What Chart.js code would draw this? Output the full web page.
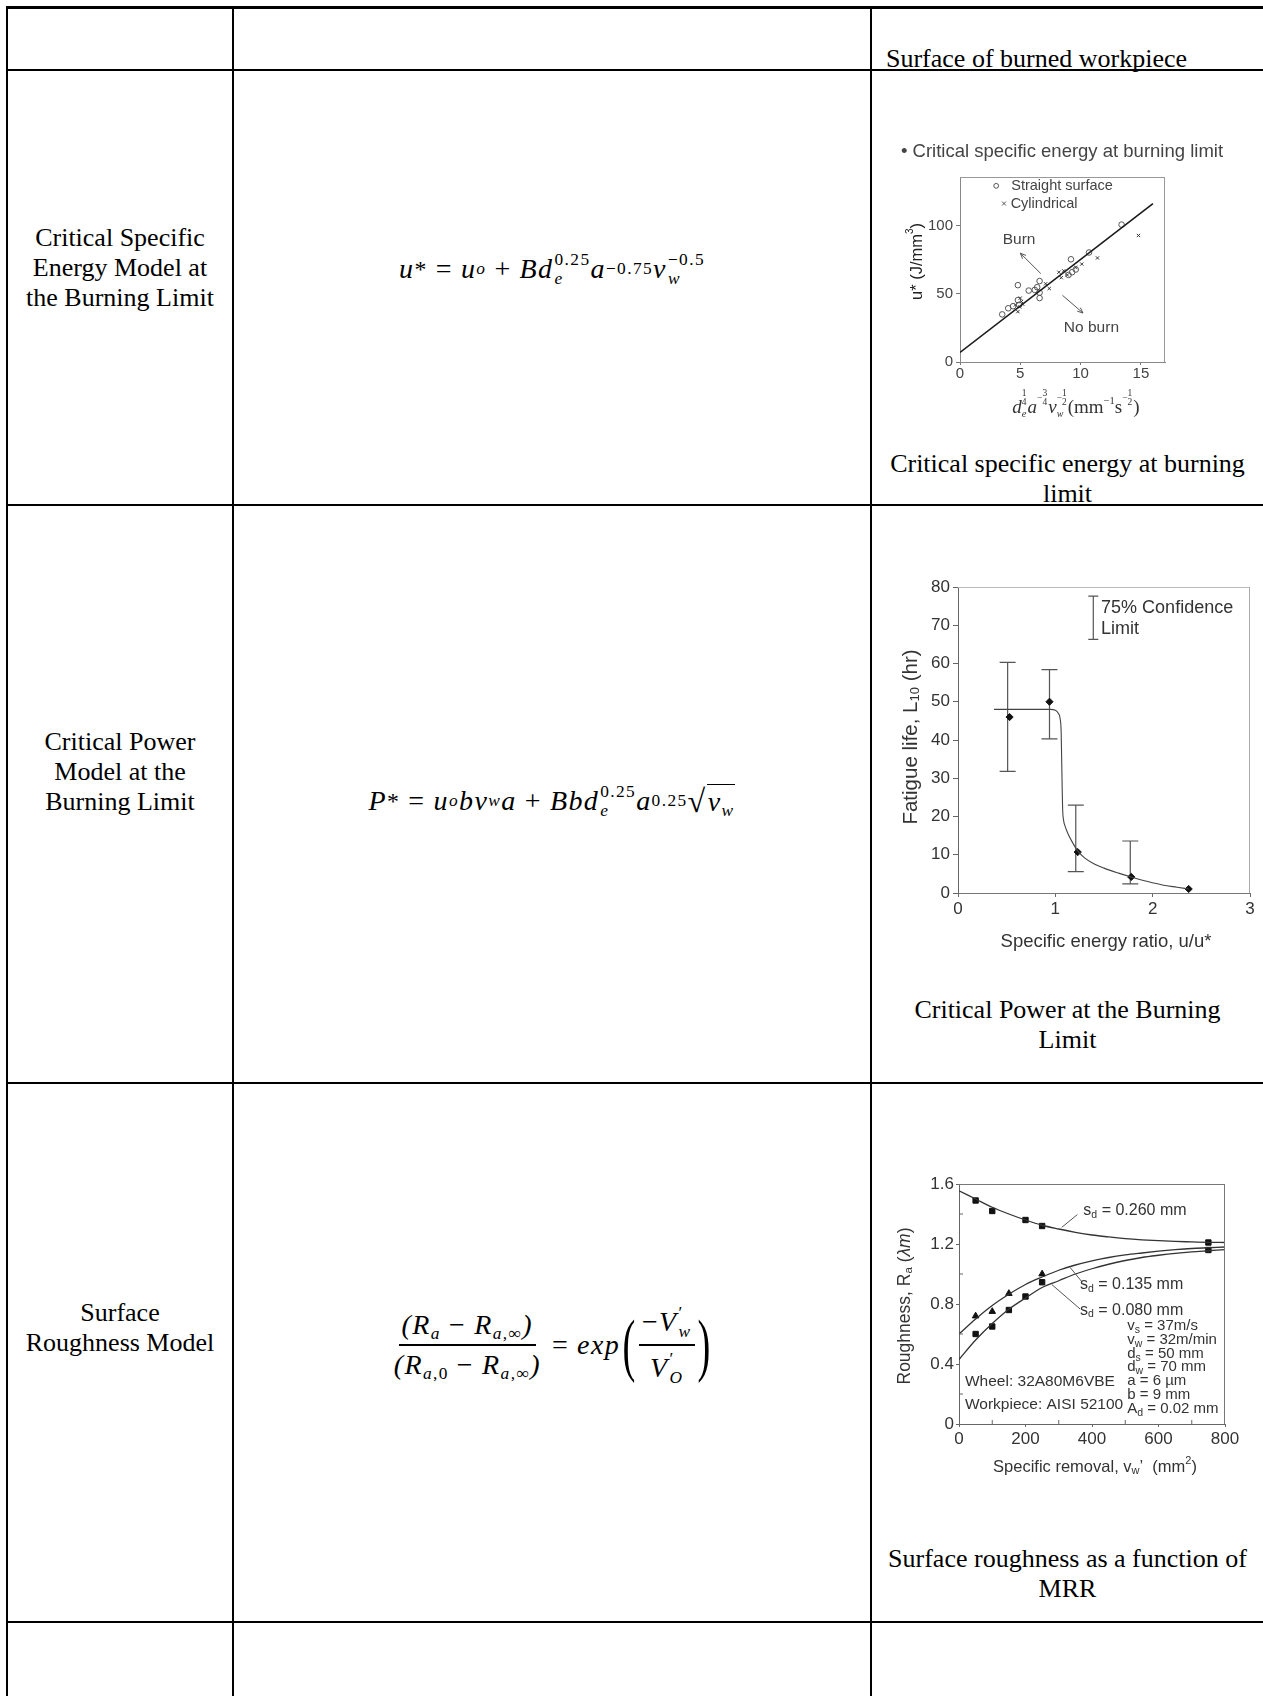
<!DOCTYPE html>
<html><head><meta charset="utf-8">
<script src="https://cdn.jsdelivr.net/npm/chart.js@4.4.1/dist/chart.umd.min.js"></script>
<style>
html,body{margin:0;padding:0;background:#fff;}
body{width:1263px;height:1696px;position:relative;overflow:hidden;font-family:"Liberation Serif","Times New Roman",serif;color:#000;}
.h{position:absolute;left:6px;width:1257px;height:2px;background:#000;}
.v{position:absolute;top:6px;width:2px;height:1690px;background:#000;}
.t{position:absolute;text-align:center;font-size:26px;line-height:30px;white-space:nowrap;}
.c1{left:8px;width:224px;}
.c3{left:872px;width:391px;}
.f{position:absolute;left:234px;width:636px;height:90px;display:flex;align-items:center;justify-content:center;font-family:"Liberation Serif",serif;font-style:italic;font-size:28px;white-space:nowrap;letter-spacing:1.4px;}
.op{font-style:normal;margin:0 8px;}
.up{font-style:normal;}
.f sup,.f sub{font-size:0.62em;line-height:0;}
.f sup{vertical-align:0.95em;}
.f sub{vertical-align:-0.3em;}
.f sup.st{font-size:0.85em;vertical-align:0.25em;}
.ss{display:inline-block;font-size:0.62em;line-height:1.1;vertical-align:-6px;margin-left:1px;}
.ss>span{display:block;}
.frac{display:inline-flex;flex-direction:column;align-items:center;vertical-align:middle;}
.frac .num{border-bottom:2px solid #000;padding:0 3px 3px;}
.frac .den{padding:3px 3px 0;}
.bigp{font-style:normal;font-size:2.5em;line-height:1;display:inline-block;transform:scaleX(0.55);vertical-align:middle;margin:0 -3px;}
.rad{font-style:normal;font-size:1.15em;}
.ol{border-top:1.5px solid #000;padding:1px 1px 0;}
canvas{position:absolute;}
</style></head><body>

<div class="h" style="top:6px;height:3px"></div>
<div class="h" style="top:69px"></div>
<div class="h" style="top:504px"></div>
<div class="h" style="top:1082px"></div>
<div class="h" style="top:1621px"></div>
<div class="v" style="left:6px"></div>
<div class="v" style="left:232px"></div>
<div class="v" style="left:870px"></div>

<div class="t" style="top:44px;left:886px;text-align:left">Surface of burned workpiece</div>

<div class="t c1" style="top:223px">Critical Specific<br>Energy Model at<br>the Burning Limit</div>
<div class="t c1" style="top:727px">Critical Power<br>Model at the<br>Burning Limit</div>
<div class="t c1" style="top:1298px">Surface<br>Roughness Model</div>

<div class="f" style="top:224px">u<sup class="up st">*</sup><span class="op">=</span>u<sub>o</sub><span class="op">+</span>Bd<span class="ss"><span class="up">0.25</span><span>e</span></span>a<sup class="up">−0.75</sup>v<span class="ss"><span class="up">−0.5</span><span>w</span></span></div>

<div class="f" style="top:756px">P<sup class="up st">*</sup><span class="op">=</span>u<sub>o</sub>bv<sub>w</sub>a<span class="op">+</span>Bbd<span class="ss"><span class="up">0.25</span><span>e</span></span>a<sup class="up">0.25</sup><span class="rad">√</span><span class="ol">v<sub>w</sub></span></div>

<div class="f" style="top:1300px"><span class="frac"><span class="num">(R<sub>a</sub><span class="op">−</span>R<sub>a<span class="up">,∞</span></sub>)</span><span class="den">(R<sub>a<span class="up">,0</span></sub><span class="op">−</span>R<sub>a<span class="up">,∞</span></sub>)</span></span><span class="op">=</span>exp<span class="bigp">(</span><span class="frac"><span class="num"><span class="up">−</span>V<span class="ss"><span class="up">′</span><span>w</span></span></span><span class="den">V<span class="ss"><span class="up">′</span><span>O</span></span></span></span><span class="bigp">)</span></div>

<div class="t c3" style="top:449px">Critical specific energy at burning<br>limit</div>
<div class="t c3" style="top:995px">Critical Power at the Burning<br>Limit</div>
<div class="t c3" style="top:1544px">Surface roughness as a function of<br>MRR</div>

<canvas id="ch1" width="370" height="300" style="left:880px;top:130px"></canvas>
<canvas id="ch2" width="388" height="400" style="left:875px;top:560px"></canvas>
<canvas id="ch3" width="375" height="370" style="left:880px;top:1130px"></canvas>

<script>
// ---------- Chart 1: critical specific energy ----------
const c1XRange = [0, 17];
const c1YRange = [0, 136];
const c1XTicks = [0, 5, 10, 15];
const c1YTicks = [0, 50, 100];
const c1FitX = [0, 16];
const c1FitY = [7, 116.5];
const c1StraightX = [3.5, 4.0, 4.4, 4.8, 4.8, 4.9, 5.7, 6.2, 6.4, 6.6, 6.6, 6.6, 9.0, 9.2, 9.3, 9.6, 10.7, 13.4];
const c1StraightY = [35, 39.5, 41, 56.5, 45.5, 42, 52.5, 53, 55, 59.5, 47, 51, 64, 75.5, 66, 68, 80.5, 101];
const c1CylX = [4.6, 4.95, 5.1, 4.8, 5.2, 5.0, 7.1, 7.4, 8.2, 8.4, 8.6, 8.9, 9.6, 10.1, 11.4, 14.8];
const c1CylY = [42, 40.5, 44.5, 37, 42.5, 47, 57.5, 54, 66, 62, 67, 64, 69.5, 72, 76.5, 93];

// ---------- Chart 2: fatigue life ----------
const c2XRange = [0, 3];
const c2YRange = [0, 80];
const c2XTicks = [0, 1, 2, 3];
const c2YTicks = [0, 10, 20, 30, 40, 50, 60, 70, 80];
const c2PtX = [0.53, 0.94, 1.23, 1.78, 2.37];
const c2PtY = [46, 50, 10.7, 4.2, 1.05];
const c2ErrX = [0.51, 0.94, 1.21, 1.77];
const c2ErrLo = [31.8, 40.3, 5.6, 2.4];
const c2ErrHi = [60.3, 58.4, 23, 13.6];
const c2CurveX = [0.37, 0.6, 0.8, 0.95, 1.0, 1.03, 1.05, 1.06, 1.065, 1.07, 1.075, 1.085, 1.1, 1.13, 1.17, 1.23, 1.3, 1.4, 1.5, 1.65, 1.78, 1.95, 2.1, 2.25, 2.37];
const c2CurveY = [48, 48, 48, 48, 47.8, 47, 45.5, 42, 35, 28, 22, 19, 17.5, 15.5, 13.5, 11, 9.2, 7.6, 6.5, 5.2, 4.2, 3, 2.1, 1.5, 1.05];

// ---------- Chart 3: surface roughness ----------
const c3XRange = [0, 800];
const c3YRange = [0, 1.6];
const c3XTicks = [0, 200, 400, 600, 800];
const c3YTicks = [0, 0.4, 0.8, 1.2, 1.6];
const c3CurveX = [0, 50, 100, 150, 200, 250, 300, 350, 400, 450, 500, 550, 600, 650, 700, 750, 800];
const c3Curve260 = [1.555, 1.5, 1.445, 1.4, 1.36, 1.325, 1.3, 1.278, 1.26, 1.247, 1.236, 1.228, 1.222, 1.217, 1.214, 1.211, 1.21];
const c3Curve135 = [0.6, 0.7, 0.79, 0.865, 0.93, 0.98, 1.025, 1.06, 1.088, 1.11, 1.127, 1.14, 1.152, 1.162, 1.17, 1.175, 1.18];
const c3Curve080 = [0.43, 0.56, 0.67, 0.765, 0.84, 0.91, 0.955, 1.0, 1.035, 1.065, 1.09, 1.11, 1.125, 1.138, 1.148, 1.155, 1.162];
const c3Sq260X = [50, 100, 200, 250, 750];
const c3Sq260Y = [1.49, 1.42, 1.36, 1.32, 1.21];
const c3Tri135X = [50, 100, 150, 250];
const c3Tri135Y = [0.72, 0.75, 0.87, 1.0];
const c3Sq080X = [50, 100, 150, 200, 250, 750];
const c3Sq080Y = [0.6, 0.65, 0.76, 0.85, 0.945, 1.16];

const SANS = '"Liberation Sans", Arial, sans-serif';
const SERIF = '"Liberation Serif", "Times New Roman", serif';
const zip = (xs, ys) => xs.map((x, i) => ({x: x, y: ys[i]}));

// ---------- rich text helper ----------
function segFont(s, b) { return (s.i ? 'italic ' : '') + (s.s || b.s) + 'px ' + (s.fam || b.fam); }
function segW(ctx, s, b) {
  if (s.over) return Math.max.apply(null, s.over.map(o => segW(ctx, o, b)));
  ctx.font = segFont(s, b);
  if (s.fr) {
    const w = Math.max(ctx.measureText(s.fr[0]).width, ctx.measureText(s.fr[1]).width) + 1;
    return w + (s.neg ? ctx.measureText('−').width : 0);
  }
  return ctx.measureText(s.t).width;
}
function segD(ctx, s, b, x, y) {
  if (s.over) { s.over.forEach(o => segD(ctx, o, b, x, y)); return; }
  ctx.font = segFont(s, b);
  const dy = s.dy || 0;
  ctx.textAlign = 'left';
  if (s.fr) {
    let xx = x;
    const sz = s.s || b.s;
    if (s.neg) { ctx.fillText('−', xx, y + dy); xx += ctx.measureText('−').width; }
    const w = Math.max(ctx.measureText(s.fr[0]).width, ctx.measureText(s.fr[1]).width);
    ctx.textAlign = 'center';
    ctx.fillText(s.fr[0], xx + w / 2, y + dy - sz * 0.5);
    ctx.fillText(s.fr[1], xx + w / 2, y + dy + sz * 0.5);
    ctx.textAlign = 'left';
    return;
  }
  ctx.fillText(s.t, x, y + dy);
}
function rich(ctx, x, y, segs, o) {
  const b = {s: o.s, fam: o.fam || SANS};
  const ws = segs.map(s => segW(ctx, s, b));
  const tot = ws.reduce((a, c) => a + c, 0);
  ctx.save();
  ctx.fillStyle = o.color || '#333';
  ctx.textBaseline = 'middle';
  ctx.translate(x, y);
  if (o.rot) ctx.rotate(-Math.PI / 2);
  let xx = o.align === 'left' ? 0 : (o.align === 'right' ? -tot : -tot / 2);
  segs.forEach((s, i) => { segD(ctx, s, b, xx, 0); xx += ws[i]; });
  ctx.restore();
}
function arrow(ctx, x1, y1, x2, y2, color) {
  ctx.save();
  ctx.strokeStyle = color; ctx.lineWidth = 1;
  ctx.beginPath(); ctx.moveTo(x1, y1); ctx.lineTo(x2, y2); ctx.stroke();
  const a = Math.atan2(y2 - y1, x2 - x1), L = 6;
  ctx.beginPath();
  ctx.moveTo(x2 - L * Math.cos(a - 0.4), y2 - L * Math.sin(a - 0.4));
  ctx.lineTo(x2, y2);
  ctx.lineTo(x2 - L * Math.cos(a + 0.4), y2 - L * Math.sin(a + 0.4));
  ctx.stroke();
  ctx.restore();
}

function axis(range, ticks, size, isX, o) {
  return {
    type: 'linear', min: range[0], max: range[1],
    afterBuildTicks: s => { s.ticks = ticks.map(v => ({value: v})); },
    afterFit: s => {
      if (isX) { s.height = size; s.paddingLeft = 0; s.paddingRight = 0; }
      else { s.width = size; s.paddingTop = 0; s.paddingBottom = 0; }
    },
    grid: {drawOnChartArea: false, drawTicks: true, tickLength: o.tl, color: o.tc, lineWidth: 1},
    border: {display: true, color: o.bc, width: 1},
    ticks: {color: o.col, font: {family: SANS, size: o.fs}, padding: o.pad, maxRotation: 0, autoSkip: false,
      callback: v => String(v)}
  };
}
function frame(top, right) {
  return {id: 'frame', afterDatasetsDraw(chart) {
    const c = chart.ctx, a = chart.chartArea;
    c.save(); c.lineWidth = 1;
    c.strokeStyle = top; c.beginPath(); c.moveTo(a.left, a.top + 0.5); c.lineTo(a.right, a.top + 0.5); c.stroke();
    c.strokeStyle = right; c.beginPath(); c.moveTo(a.right - 0.5, a.top); c.lineTo(a.right - 0.5, a.bottom); c.stroke();
    c.restore();
  }};
}
const baseOpts = (pad) => ({
  responsive: false, animation: false, devicePixelRatio: 1,
  layout: {padding: pad},
  plugins: {legend: {display: false}, tooltip: {enabled: false}, title: {display: false}}
});

// ---------- Chart 1 ----------
const annot1 = {id: 'annot1', afterDraw(chart) {
  const ctx = chart.ctx, a = chart.chartArea, X = chart.scales.x, Y = chart.scales.y;
  const px = v => X.getPixelForValue(v), py = v => Y.getPixelForValue(v);
  const col = '#444';
  rich(ctx, a.left + 102, a.top - 25, [{t: '• Critical specific energy at burning limit'}], {s: 18.5, color: col});
  ctx.save(); ctx.strokeStyle = '#555'; ctx.lineWidth = 1;
  ctx.beginPath(); ctx.arc(px(3.0), py(129.5), 2.4, 0, Math.PI * 2); ctx.stroke();
  const cx = px(3.65), cy = py(116.5);
  ctx.beginPath(); ctx.moveTo(cx - 2, cy - 2); ctx.lineTo(cx + 2, cy + 2); ctx.moveTo(cx + 2, cy - 2); ctx.lineTo(cx - 2, cy + 2); ctx.stroke();
  ctx.restore();
  rich(ctx, px(4.25), py(129.5), [{t: 'Straight surface'}], {s: 14.5, color: col, align: 'left'});
  rich(ctx, px(4.2), py(116.5), [{t: 'Cylindrical'}], {s: 14.5, color: col, align: 'left'});
  rich(ctx, px(4.9), py(90), [{t: 'Burn'}], {s: 15.5, color: col});
  arrow(ctx, px(6.7), py(65), px(5.0), py(80), '#555');
  rich(ctx, px(10.9), py(25.5), [{t: 'No burn'}], {s: 15.5, color: col});
  arrow(ctx, px(8.5), py(49), px(10.2), py(36), '#555');
  rich(ctx, a.left - 43, (a.top + a.bottom) / 2 - 8, [{t: 'u* (J/mm'}, {t: '3', s: 10, dy: -7}, {t: ')'}], {s: 16.5, color: '#222', rot: true});
  rich(ctx, a.left + 116, a.bottom + 46, [
    {t: 'd', i: true},
    {over: [{fr: ['1', '4'], s: 9.5, dy: -10}, {t: 'e', s: 10.5, dy: 6, i: true}]},
    {t: 'a', i: true},
    {fr: ['3', '4'], s: 9.5, dy: -10, neg: true},
    {t: 'v', i: true},
    {over: [{fr: ['1', '2'], s: 9.5, dy: -10, neg: true}, {t: 'w', s: 10, dy: 6, i: true}]},
    {t: '(mm'},
    {t: '−1', s: 10.5, dy: -7},
    {t: 's'},
    {fr: ['1', '2'], s: 9.5, dy: -10, neg: true},
    {t: ')'}
  ], {s: 19, fam: SERIF, color: '#333'});
}};
new Chart(document.getElementById('ch1'), {
  type: 'scatter',
  data: {datasets: [
    {type: 'line', data: zip(c1FitX, c1FitY), borderColor: '#1a1a1a', borderWidth: 1.6, pointRadius: 0, showLine: true, fill: false},
    {data: zip(c1StraightX, c1StraightY), pointStyle: 'circle', pointRadius: 2.8, pointBorderColor: '#555', pointBorderWidth: 1, pointBackgroundColor: 'rgba(255,255,255,0)'},
    {data: zip(c1CylX, c1CylY), pointStyle: 'crossRot', pointRadius: 2.3, pointBorderColor: '#333', pointBorderWidth: 1}
  ]},
  options: Object.assign(baseOpts({top: 47, right: 85, left: 0, bottom: 0}), {
    scales: {
      x: axis(c1XRange, c1XTicks, 68, true, {tl: 3, tc: '#777', bc: '#888', col: '#444', fs: 15, pad: 0}),
      y: axis(c1YRange, c1YTicks, 80, false, {tl: 4, tc: '#777', bc: '#888', col: '#444', fs: 15, pad: 3})
    }
  }),
  plugins: [frame('#999', '#999'), annot1]
});

// ---------- Chart 2 ----------
const annot2 = {id: 'annot2',
  beforeDatasetsDraw(chart) {
    const ctx = chart.ctx, X = chart.scales.x, Y = chart.scales.y;
    ctx.save(); ctx.strokeStyle = '#555'; ctx.lineWidth = 1.2;
    c2ErrX.forEach((xv, i) => {
      const x = X.getPixelForValue(xv), y1 = Y.getPixelForValue(c2ErrLo[i]), y2 = Y.getPixelForValue(c2ErrHi[i]);
      ctx.beginPath();
      ctx.moveTo(x, y1); ctx.lineTo(x, y2);
      ctx.moveTo(x - 8, y1); ctx.lineTo(x + 8, y1);
      ctx.moveTo(x - 8, y2); ctx.lineTo(x + 8, y2);
      ctx.stroke();
    });
    ctx.restore();
  },
  afterDraw(chart) {
    const ctx = chart.ctx, a = chart.chartArea, X = chart.scales.x, Y = chart.scales.y;
    const px = v => X.getPixelForValue(v), py = v => Y.getPixelForValue(v);
    ctx.save(); ctx.strokeStyle = '#555'; ctx.lineWidth = 1.2;
    const lx = px(1.39), t = py(77.6), b = py(66.3);
    ctx.beginPath(); ctx.moveTo(lx, t); ctx.lineTo(lx, b);
    ctx.moveTo(lx - 5, t); ctx.lineTo(lx + 5, t); ctx.moveTo(lx - 5, b); ctx.lineTo(lx + 5, b); ctx.stroke();
    ctx.restore();
    rich(ctx, px(1.47), py(74.5), [{t: '75% Confidence'}], {s: 18, color: '#333', align: 'left'});
    rich(ctx, px(1.47), py(69), [{t: 'Limit'}], {s: 18, color: '#333', align: 'left'});
    rich(ctx, a.left - 47, (a.top + a.bottom) / 2 - 3, [{t: 'Fatigue life, L'}, {t: '10', s: 13, dy: 4}, {t: ' (hr)'}], {s: 20.5, color: '#333', rot: true});
    rich(ctx, (a.left + a.right) / 2 + 2, a.bottom + 49, [{t: 'Specific energy ratio, u/u*'}], {s: 18.5, color: '#333'});
  }
};
new Chart(document.getElementById('ch2'), {
  type: 'scatter',
  data: {datasets: [
    {type: 'line', data: zip(c2CurveX, c2CurveY), borderColor: '#444', borderWidth: 1.1, pointRadius: 0, showLine: true, fill: false, cubicInterpolationMode: 'monotone'},
    {data: zip(c2PtX, c2PtY), pointStyle: 'rectRot', pointRadius: 3.6, pointBackgroundColor: '#111', pointBorderColor: '#111', pointBorderWidth: 1}
  ]},
  options: Object.assign(baseOpts({top: 27, right: 13, left: 0, bottom: 0}), {
    scales: {
      x: axis(c2XRange, c2XTicks, 67, true, {tl: 4, tc: '#666', bc: '#777', col: '#333', fs: 17, pad: 2}),
      y: axis(c2YRange, c2YTicks, 83, false, {tl: 5, tc: '#666', bc: '#666', col: '#333', fs: 17, pad: 3})
    }
  }),
  plugins: [frame('#bbb', '#aaa'), annot2]
});

// ---------- Chart 3 ----------
const annot3 = {id: 'annot3', afterDraw(chart) {
  const ctx = chart.ctx, a = chart.chartArea, X = chart.scales.x, Y = chart.scales.y;
  const px = v => X.getPixelForValue(v), py = v => Y.getPixelForValue(v);
  const col = '#333';
  ctx.save(); ctx.strokeStyle = '#666'; ctx.lineWidth = 1;
  ctx.beginPath();
  [100, 300, 500, 700].forEach(v => { ctx.moveTo(px(v), a.bottom); ctx.lineTo(px(v), a.bottom - 4); });
  [0.2, 0.6, 1.0, 1.4].forEach(v => { ctx.moveTo(a.left, py(v)); ctx.lineTo(a.left + 4, py(v)); });
  ctx.stroke();
  ctx.strokeStyle = '#555';
  ctx.beginPath();
  ctx.moveTo(px(309), py(1.311)); ctx.lineTo(px(356), py(1.396));
  ctx.moveTo(px(334), py(1.044)); ctx.lineTo(px(369), py(0.95));
  ctx.moveTo(px(279), py(0.93)); ctx.lineTo(px(364), py(0.767));
  ctx.stroke();
  ctx.restore();
  const sd = v => [{t: 's'}, {t: 'd', s: 10.5, dy: 4}, {t: ' = ' + v + ' mm'}];
  rich(ctx, px(374), py(1.42), sd('0.260'), {s: 16, color: col, align: 'left'});
  rich(ctx, px(364), py(0.928), sd('0.135'), {s: 16, color: col, align: 'left'});
  rich(ctx, px(364), py(0.759), sd('0.080'), {s: 16, color: col, align: 'left'});
  const params = [
    [[{t: 'v'}, {t: 's', s: 10.5, dy: 4}, {t: ' = 37m/s'}], 0.653],
    [[{t: 'v'}, {t: 'w', s: 10.5, dy: 4}, {t: ' = 32m/min'}], 0.562],
    [[{t: 'd'}, {t: 's', s: 10.5, dy: 4}, {t: ' = 50 mm'}], 0.468],
    [[{t: 'd'}, {t: 'w', s: 10.5, dy: 4}, {t: ' = 70 mm'}], 0.378],
    [[{t: 'a = 6 µm'}], 0.285],
    [[{t: 'b = 9 mm'}], 0.195],
    [[{t: 'A'}, {t: 'd', s: 10.5, dy: 4}, {t: ' = 0.02 mm'}], 0.1]
  ];
  params.forEach(p => rich(ctx, px(506), py(p[1]), p[0], {s: 15, color: col, align: 'left'}));
  rich(ctx, px(18), py(0.281), [{t: 'Wheel: 32A80M6VBE'}], {s: 15.5, color: col, align: 'left'});
  rich(ctx, px(18), py(0.127), [{t: 'Workpiece: AISI 52100'}], {s: 15.5, color: col, align: 'left'});
  rich(ctx, a.left - 54, (a.top + a.bottom) / 2 + 2, [{t: 'Roughness, R'}, {t: 'a', s: 11.5, dy: 4}, {t: ' ('}, {t: 'λm', i: true}, {t: ')'}], {s: 17.5, color: col, rot: true});
  rich(ctx, (a.left + a.right) / 2 + 3, a.bottom + 43, [{t: 'Specific removal, v'}, {t: 'w', s: 11, dy: 4}, {t: '’  (mm'}, {t: '2', s: 11, dy: -6}, {t: ')'}], {s: 16.5, color: col});
}};
const lineDs = (ys) => ({type: 'line', data: zip(c3CurveX, ys), borderColor: '#333', borderWidth: 1.3, pointRadius: 0, showLine: true, fill: false, cubicInterpolationMode: 'monotone'});
new Chart(document.getElementById('ch3'), {
  type: 'scatter',
  data: {datasets: [
    lineDs(c3Curve260), lineDs(c3Curve135), lineDs(c3Curve080),
    {data: zip(c3Sq260X, c3Sq260Y), pointStyle: 'rect', pointRadius: 3.8, pointBackgroundColor: '#111', pointBorderColor: '#111'},
    {data: zip(c3Tri135X, c3Tri135Y), pointStyle: 'triangle', pointRadius: 3.8, pointBackgroundColor: '#111', pointBorderColor: '#111'},
    {data: zip(c3Sq080X, c3Sq080Y), pointStyle: 'rect', pointRadius: 3.8, pointBackgroundColor: '#111', pointBorderColor: '#111'}
  ]},
  options: Object.assign(baseOpts({top: 54, right: 30, left: 0, bottom: 0}), {
    scales: {
      x: axis(c3XRange, c3XTicks, 76, true, {tl: 3, tc: '#666', bc: '#666', col: '#333', fs: 17, pad: 2}),
      y: axis(c3YRange, c3YTicks, 79, false, {tl: 3, tc: '#666', bc: '#666', col: '#333', fs: 17, pad: 2})
    }
  }),
  plugins: [frame('#777', '#777'), annot3]
});
</script>
</body></html>
